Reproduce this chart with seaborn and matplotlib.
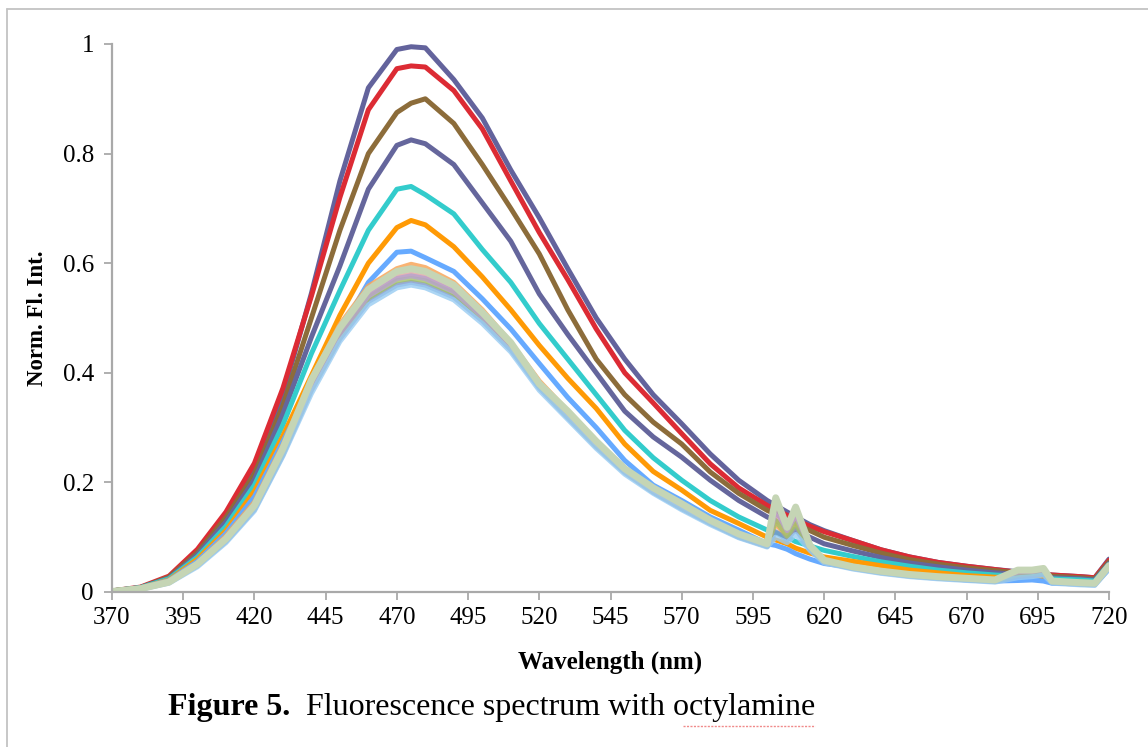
import matplotlib
matplotlib.use("Agg")
import matplotlib.pyplot as plt
import pandas as pd
import seaborn as sns
from matplotlib.lines import Line2D

# ---------------- data ----------------
WAVELENGTH = [370, 380, 390, 400, 410, 420, 430, 440, 450, 460, 470, 475, 480,
              490, 500, 510, 520, 530, 540, 550, 560, 570, 580, 590, 600, 603,
              607, 610, 615, 620, 630, 640, 650, 660, 670, 680, 688, 693, 697,
              700, 710, 715, 720]

S_SLATE = [0.002, 0.008, 0.026, 0.072, 0.135, 0.220, 0.360, 0.545, 0.750, 0.920,
           0.990, 0.995, 0.993, 0.935, 0.865, 0.770, 0.683, 0.590, 0.500, 0.425,
           0.360, 0.307, 0.252, 0.204, 0.167, 0.158, 0.146, 0.137, 0.123, 0.112,
           0.094, 0.077, 0.064, 0.054, 0.047, 0.041, 0.037, 0.035, 0.033, 0.031,
           0.028, 0.026, 0.060]
S_RED = [0.002, 0.009, 0.029, 0.078, 0.146, 0.235, 0.372, 0.540, 0.720, 0.880,
         0.955, 0.960, 0.958, 0.915, 0.845, 0.750, 0.656, 0.570, 0.480, 0.400,
         0.345, 0.289, 0.234, 0.190, 0.158, 0.150, 0.140, 0.131, 0.120, 0.110,
         0.094, 0.077, 0.064, 0.054, 0.047, 0.041, 0.036, 0.035, 0.033, 0.031,
         0.028, 0.026, 0.058]
S_BROWN = [0.002, 0.008, 0.027, 0.072, 0.136, 0.215, 0.340, 0.500, 0.660, 0.800,
           0.875, 0.892, 0.900, 0.855, 0.780, 0.700, 0.617, 0.515, 0.425, 0.360,
           0.310, 0.270, 0.219, 0.180, 0.149, 0.142, 0.132, 0.125, 0.112, 0.100,
           0.085, 0.071, 0.059, 0.051, 0.044, 0.039, 0.035, 0.034, 0.032, 0.029,
           0.026, 0.024, 0.055]
S_PURPLE = [0.002, 0.008, 0.025, 0.068, 0.128, 0.205, 0.325, 0.465, 0.595, 0.735,
            0.815, 0.825, 0.818, 0.780, 0.710, 0.640, 0.544, 0.470, 0.400, 0.330,
            0.283, 0.246, 0.204, 0.167, 0.137, 0.130, 0.120, 0.112, 0.100, 0.088,
            0.075, 0.063, 0.053, 0.046, 0.040, 0.035, 0.032, 0.031, 0.029, 0.026,
            0.024, 0.022, 0.052]
S_TURQ = [0.002, 0.008, 0.024, 0.064, 0.120, 0.195, 0.305, 0.435, 0.550, 0.660,
          0.735, 0.740, 0.725, 0.690, 0.625, 0.565, 0.490, 0.425, 0.360, 0.295,
          0.245, 0.204, 0.167, 0.137, 0.113, 0.108, 0.100, 0.092, 0.084, 0.076,
          0.065, 0.055, 0.047, 0.040, 0.035, 0.031, 0.029, 0.028, 0.027, 0.024,
          0.022, 0.020, 0.050]
S_ORANGE = [0.002, 0.007, 0.022, 0.060, 0.112, 0.184, 0.285, 0.395, 0.505, 0.600,
            0.665, 0.678, 0.670, 0.630, 0.575, 0.515, 0.450, 0.390, 0.335, 0.270,
            0.220, 0.186, 0.149, 0.125, 0.100, 0.095, 0.088, 0.080, 0.071, 0.064,
            0.056, 0.048, 0.040, 0.035, 0.030, 0.027, 0.026, 0.025, 0.024, 0.020,
            0.018, 0.017, 0.045]
S_LBLUE = [0.001, 0.007, 0.021, 0.056, 0.107, 0.174, 0.275, 0.375, 0.475, 0.565,
           0.620, 0.622, 0.610, 0.585, 0.535, 0.480, 0.417, 0.355, 0.300, 0.240,
           0.195, 0.167, 0.137, 0.113, 0.088, 0.085, 0.078, 0.070, 0.060, 0.052,
           0.045, 0.038, 0.032, 0.027, 0.022, 0.020, 0.021, 0.022, 0.020, 0.016,
           0.015, 0.014, 0.042]
S_LORANGE = [0.001, 0.007, 0.020, 0.053, 0.102, 0.164, 0.268, 0.388, 0.488, 0.558,
             0.590, 0.598, 0.592, 0.565, 0.515, 0.455, 0.385, 0.330, 0.272, 0.222,
             0.185, 0.155, 0.127, 0.103, 0.085, 0.125, 0.100, 0.120, 0.080, 0.055,
             0.044, 0.036, 0.030, 0.026, 0.023, 0.020, 0.030, 0.032, 0.035, 0.018,
             0.015, 0.014, 0.044]
S_PINK = [0.001, 0.006, 0.019, 0.051, 0.098, 0.158, 0.258, 0.378, 0.472, 0.542,
          0.575, 0.580, 0.575, 0.550, 0.505, 0.450, 0.380, 0.325, 0.270, 0.222,
          0.186, 0.158, 0.128, 0.104, 0.086, 0.140, 0.108, 0.135, 0.082, 0.056,
          0.045, 0.037, 0.031, 0.027, 0.024, 0.021, 0.034, 0.036, 0.038, 0.019,
          0.016, 0.015, 0.046]
S_BLUEGRAY = [0.001, 0.005, 0.017, 0.048, 0.092, 0.150, 0.250, 0.368, 0.462, 0.530,
              0.560, 0.565, 0.560, 0.538, 0.495, 0.442, 0.372, 0.318, 0.265, 0.218,
              0.182, 0.152, 0.125, 0.100, 0.083, 0.110, 0.095, 0.115, 0.078, 0.054,
              0.043, 0.035, 0.029, 0.025, 0.022, 0.019, 0.028, 0.030, 0.033, 0.017,
              0.014, 0.013, 0.043]
S_GREEN = [0.001, 0.006, 0.018, 0.049, 0.095, 0.154, 0.254, 0.372, 0.467, 0.537,
           0.568, 0.572, 0.568, 0.545, 0.500, 0.447, 0.376, 0.322, 0.268, 0.220,
           0.184, 0.155, 0.127, 0.102, 0.084, 0.130, 0.102, 0.125, 0.080, 0.055,
           0.044, 0.036, 0.030, 0.026, 0.023, 0.020, 0.032, 0.034, 0.036, 0.018,
           0.015, 0.014, 0.045]
S_LAVENDER = [0.001, 0.006, 0.018, 0.050, 0.096, 0.156, 0.257, 0.374, 0.470, 0.540,
              0.572, 0.577, 0.572, 0.548, 0.502, 0.448, 0.378, 0.324, 0.270, 0.221,
              0.185, 0.156, 0.128, 0.103, 0.085, 0.150, 0.112, 0.140, 0.083, 0.056,
              0.045, 0.037, 0.031, 0.027, 0.024, 0.021, 0.036, 0.037, 0.040, 0.019,
              0.016, 0.015, 0.047]
S_SKY = [0.001, 0.005, 0.016, 0.046, 0.090, 0.148, 0.248, 0.362, 0.457, 0.524,
         0.555, 0.560, 0.555, 0.533, 0.490, 0.438, 0.368, 0.315, 0.262, 0.215,
         0.180, 0.150, 0.123, 0.099, 0.082, 0.100, 0.090, 0.105, 0.076, 0.053,
         0.042, 0.034, 0.028, 0.024, 0.021, 0.018, 0.026, 0.028, 0.031, 0.016,
         0.013, 0.012, 0.042]
S_SAGE = [0.001, 0.006, 0.018, 0.051, 0.097, 0.158, 0.262, 0.387, 0.482, 0.552,
          0.585, 0.590, 0.585, 0.560, 0.510, 0.455, 0.380, 0.330, 0.275, 0.225,
          0.190, 0.161, 0.131, 0.106, 0.088, 0.172, 0.118, 0.155, 0.085, 0.058,
          0.046, 0.038, 0.032, 0.028, 0.025, 0.022, 0.040, 0.040, 0.043, 0.020,
          0.017, 0.016, 0.048]

X_TICKS = [370, 395, 420, 445, 470, 495, 520, 545, 570, 595, 620, 645, 670, 695, 720]
Y_TICKS = [0, 0.2, 0.4, 0.6, 0.8, 1]
Y_TICK_LABELS = ["0", "0.2", "0.4", "0.6", "0.8", "1"]

# ---------------- styling ----------------
SERIES = [
    (S_SLATE, "#63639c", 3.6, 1.0),
    (S_RED, "#dc2b34", 3.6, 1.0),
    (S_BROWN, "#8c6c3a", 3.6, 1.0),
    (S_PURPLE, "#65669c", 3.6, 1.0),
    (S_TURQ, "#33cccc", 3.6, 1.0),
    (S_ORANGE, "#ff9a05", 3.6, 1.0),
    (S_LBLUE, "#66aaff", 3.6, 1.0),
    (S_LORANGE, "#f9a65a", 3.6, 0.85),
    (S_PINK, "#e3a8a8", 3.6, 0.85),
    (S_BLUEGRAY, "#7f96c8", 3.6, 0.8),
    (S_GREEN, "#a3c16a", 3.6, 0.8),
    (S_LAVENDER, "#b7a3cf", 3.6, 0.8),
    (S_SKY, "#99ccf2", 3.6, 0.8),
    (S_SAGE, "#c5d5b5", 5.0, 1.0),
]

sns.set_theme(style="white")
plt.rcParams["font.family"] = ["Liberation Serif", "DejaVu Serif"]

W, H = 1148, 747
fig = plt.figure(figsize=(W / 100, H / 100), dpi=100)
ax = fig.add_axes([112 / W, 1 - 592 / H, 997 / W, 548 / H])

for vals, color, lw, alpha in SERIES:
    df = pd.DataFrame({"Wavelength": WAVELENGTH, "Intensity": vals})
    sns.lineplot(data=df, x="Wavelength", y="Intensity", ax=ax, color=color,
                 linewidth=lw, alpha=alpha, solid_joinstyle="round",
                 solid_capstyle="round")

ax.set_xlim(370, 720)
ax.set_ylim(0, 1)
ax.set_xticks(X_TICKS)
ax.set_xticklabels([str(t) for t in X_TICKS])
ax.set_yticks(Y_TICKS)
ax.set_yticklabels(Y_TICK_LABELS)

axis_gray = "#a9a9a9"
for side in ("top", "right"):
    ax.spines[side].set_visible(False)
for side in ("left", "bottom"):
    ax.spines[side].set_color(axis_gray)
    ax.spines[side].set_linewidth(1.6)
ax.tick_params(axis="both", which="major", bottom=True, left=True,
               direction="out", length=6, width=1.3, color=axis_gray,
               labelsize=18, labelcolor="black")
ax.tick_params(axis="x", pad=5)
ax.tick_params(axis="y", pad=7)
ax.grid(False)

ax.set_xlabel("Wavelength (nm)", fontsize=18, fontweight="bold", color="black")
ax.set_ylabel("Norm. Fl. Int.", fontsize=16.5, fontweight="bold", color="black")
ax.xaxis.set_label_coords(0.5, -0.107)
ax.yaxis.set_label_coords(-0.064, 0.5)

# caption
fig.text(168 / W, 1 - 708 / H, "Figure 5.", fontsize=23, fontweight="bold",
         va="center", ha="left", color="black")
fig.text(306 / W, 1 - 708 / H, "Fluorescence spectrum with octylamine",
         fontsize=23, va="center", ha="left", color="black")
fig.add_artist(Line2D([683 / W, 815 / W], [1 - 726 / H, 1 - 726 / H],
                      transform=fig.transFigure, color="#f08a8a", lw=1.0,
                      linestyle=(0, (1.5, 1.0))))

# page frame
frame_gray = "#c3c3c3"
fig.add_artist(Line2D([7 / W, 1.0], [1 - 9 / H, 1 - 9 / H],
                      transform=fig.transFigure, color=frame_gray, lw=1.3))
fig.add_artist(Line2D([7 / W, 7 / W], [0, 1 - 9 / H],
                      transform=fig.transFigure, color=frame_gray, lw=1.3))

fig.savefig("out.png", dpi=100, facecolor="white")
